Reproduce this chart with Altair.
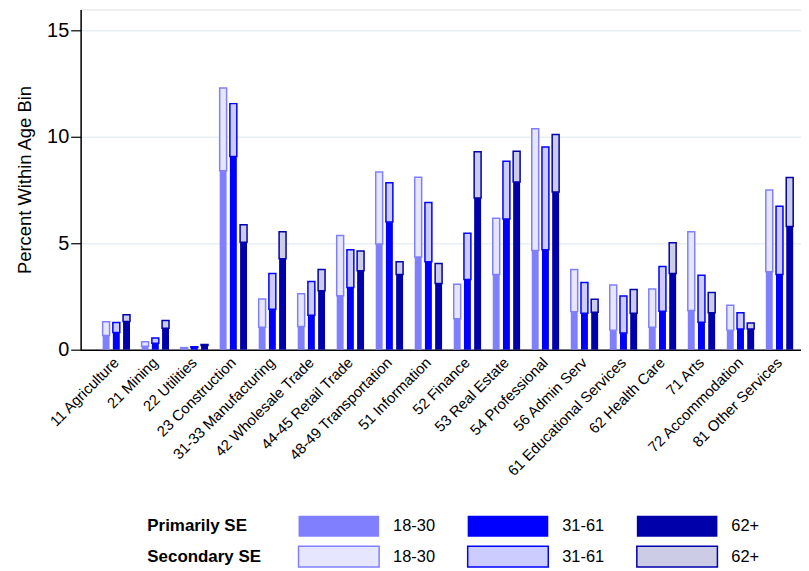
import altair as alt
import pandas as pd

industries = ["11 Agriculture", "21 Mining", "22 Utilities", "23 Construction",
              "31-33 Manufacturing", "42 Wholesale Trade", "44-45 Retail Trade",
              "48-49 Transportation", "51 Information", "52 Finance", "53 Real Estate",
              "54 Professional", "56 Admin Serv", "61 Educational Services",
              "62 Health Care", "71 Arts", "72 Accommodation", "81 Other Services"]
ages = ["18-30", "31-61", "62+"]

# Primarily self-employed (percent within age bin)
prim_18_30 = [0.67, 0.16, 0.07, 8.41, 1.06, 1.09, 2.54, 4.97, 4.36, 1.46, 3.53, 4.66, 1.79, 0.92, 1.06, 1.84, 0.92, 3.66]
prim_31_61 = [0.81, 0.30, 0.10, 9.08, 1.90, 1.62, 2.93, 6.00, 4.13, 3.30, 6.14, 4.70, 1.71, 0.78, 1.81, 1.29, 0.97, 3.53]
prim_62 = [1.32, 1.01, 0.20, 5.05, 4.28, 2.77, 3.71, 3.53, 3.11, 7.13, 7.88, 7.41, 1.76, 1.71, 3.58, 1.74, 0.97, 5.79]

# Secondary self-employed (stacked on top)
sec_18_30 = [0.64, 0.21, 0.03, 3.89, 1.32, 1.54, 2.83, 3.38, 3.75, 1.62, 2.65, 5.73, 1.98, 2.12, 1.79, 3.71, 1.17, 3.85]
sec_31_61 = [0.47, 0.25, 0.04, 2.49, 1.68, 1.59, 1.77, 1.85, 2.79, 2.18, 2.72, 4.83, 1.45, 1.74, 2.10, 2.21, 0.77, 3.21]
sec_62 = [0.32, 0.36, 0.05, 0.82, 1.27, 1.00, 0.93, 0.60, 0.94, 2.18, 1.45, 2.71, 0.61, 1.12, 1.45, 0.95, 0.28, 2.31]

legend_rows = ["Primarily SE", "Secondary SE"]

prim_colors = ["#8080FF", "#0000FF", "#0000AA"]
sec_fills = ["#E6E6FF", "#CCCCFF", "#CCCCE6"]

rows = []
for a, p_list, s_list in zip(ages, [prim_18_30, prim_31_61, prim_62], [sec_18_30, sec_31_61, sec_62]):
    for ind, p, s in zip(industries, p_list, s_list):
        rows.append({"industry": ind, "age": a, "primary": p, "top": p + s})
df = pd.DataFrame(rows)

leg = pd.DataFrame([{"row": r, "age": a} for r in legend_rows for a in ages])
leg_rows = pd.DataFrame({"row": legend_rows})

FONT = "Liberation Sans"

x_enc = alt.X("industry:N", sort=industries,
              scale=alt.Scale(type="band", paddingInner=0, paddingOuter=0.233, align=0.89),
              axis=alt.Axis(title=None, labelAngle=-45, labelFontSize=15, labelColor="black",
                            ticks=False, domainColor="black", domainWidth=1.5,
                            labelPadding=10, labelFont=FONT, labelAlign="right",
                            labelBaseline="middle"))
xo_enc = alt.XOffset("age:N", sort=ages, scale=alt.Scale(paddingInner=0.32, paddingOuter=0.57))
y_scale = alt.Scale(domain=[0, 16], nice=False)

prim = alt.Chart(df).mark_bar().encode(
    x=x_enc, xOffset=xo_enc,
    y=alt.Y("primary:Q", scale=y_scale,
            axis=alt.Axis(title="Percent Within Age Bin", values=[0, 5, 10, 15],
                          grid=True, gridColor="#E9F0F3", gridWidth=1.5,
                          domainColor="black", domainWidth=1.5, tickColor="black",
                          tickSize=10, tickWidth=1.2, labelFontSize=20, labelColor="black",
                          labelPadding=2, titleFontSize=18.5, titleFontWeight="normal",
                          titleColor="black", titlePadding=12, labelFont=FONT, titleFont=FONT)),
    color=alt.Color("age:N", sort=ages, scale=alt.Scale(domain=ages, range=prim_colors), legend=None),
)

sec = alt.Chart(df).mark_bar(strokeWidth=1.5).encode(
    x=x_enc, xOffset=xo_enc,
    y=alt.Y("primary:Q", scale=y_scale),
    y2="top:Q",
    fill=alt.Fill("age:N", sort=ages, scale=alt.Scale(domain=ages, range=sec_fills), legend=None),
    stroke=alt.Stroke("age:N", sort=ages, scale=alt.Scale(domain=ages, range=prim_colors), legend=None),
)

main = alt.layer(prim, sec)

lx = alt.Scale(type="band", domain=ages, range=[219, 640], paddingInner=0.5235, paddingOuter=0)
ly = alt.Scale(type="band", domain=legend_rows, range=[509, 560.5], paddingInner=0.31, paddingOuter=0)

leg_prim = alt.Chart(leg).transform_filter(alt.datum.row == "Primarily SE").mark_rect().encode(
    x=alt.X("age:N", scale=lx, axis=None),
    y=alt.Y("row:N", scale=ly, axis=None),
    color=alt.Color("age:N", sort=ages, scale=alt.Scale(domain=ages, range=prim_colors), legend=None),
)
leg_sec = alt.Chart(leg).transform_filter(alt.datum.row == "Secondary SE").mark_rect(strokeWidth=1.5).encode(
    x=alt.X("age:N", scale=lx, axis=None),
    y=alt.Y("row:N", scale=ly, axis=None),
    fill=alt.Fill("age:N", sort=ages, scale=alt.Scale(domain=ages, range=sec_fills), legend=None),
    stroke=alt.Stroke("age:N", sort=ages, scale=alt.Scale(domain=ages, range=prim_colors), legend=None),
)
leg_text = alt.Chart(leg).mark_text(align="left", baseline="middle", dx=14, fontSize=16.5,
                                    font=FONT, color="black").encode(
    x=alt.X("age:N", scale=lx, axis=None, bandPosition=1),
    y=alt.Y("row:N", scale=ly, axis=None, bandPosition=0.5),
    text="age:N",
)
leg_rowtext = alt.Chart(leg_rows).mark_text(align="left", baseline="middle", fontSize=17,
                                            fontWeight="bold", font=FONT, color="black").encode(
    x=alt.value(67),
    y=alt.Y("row:N", scale=ly, axis=None, bandPosition=0.5),
    text="row:N",
)

legend = alt.layer(leg_prim, leg_sec, leg_text, leg_rowtext)

chart = alt.layer(main, legend).resolve_scale(
    x="independent", y="independent"
).properties(
    width=724, height=342,
    padding={"left": 7, "top": 0, "right": 0, "bottom": 0},
).configure_view(stroke=None).configure(font=FONT)

chart.save("out.html", embed_options={"renderer": "svg", "actions": False})
